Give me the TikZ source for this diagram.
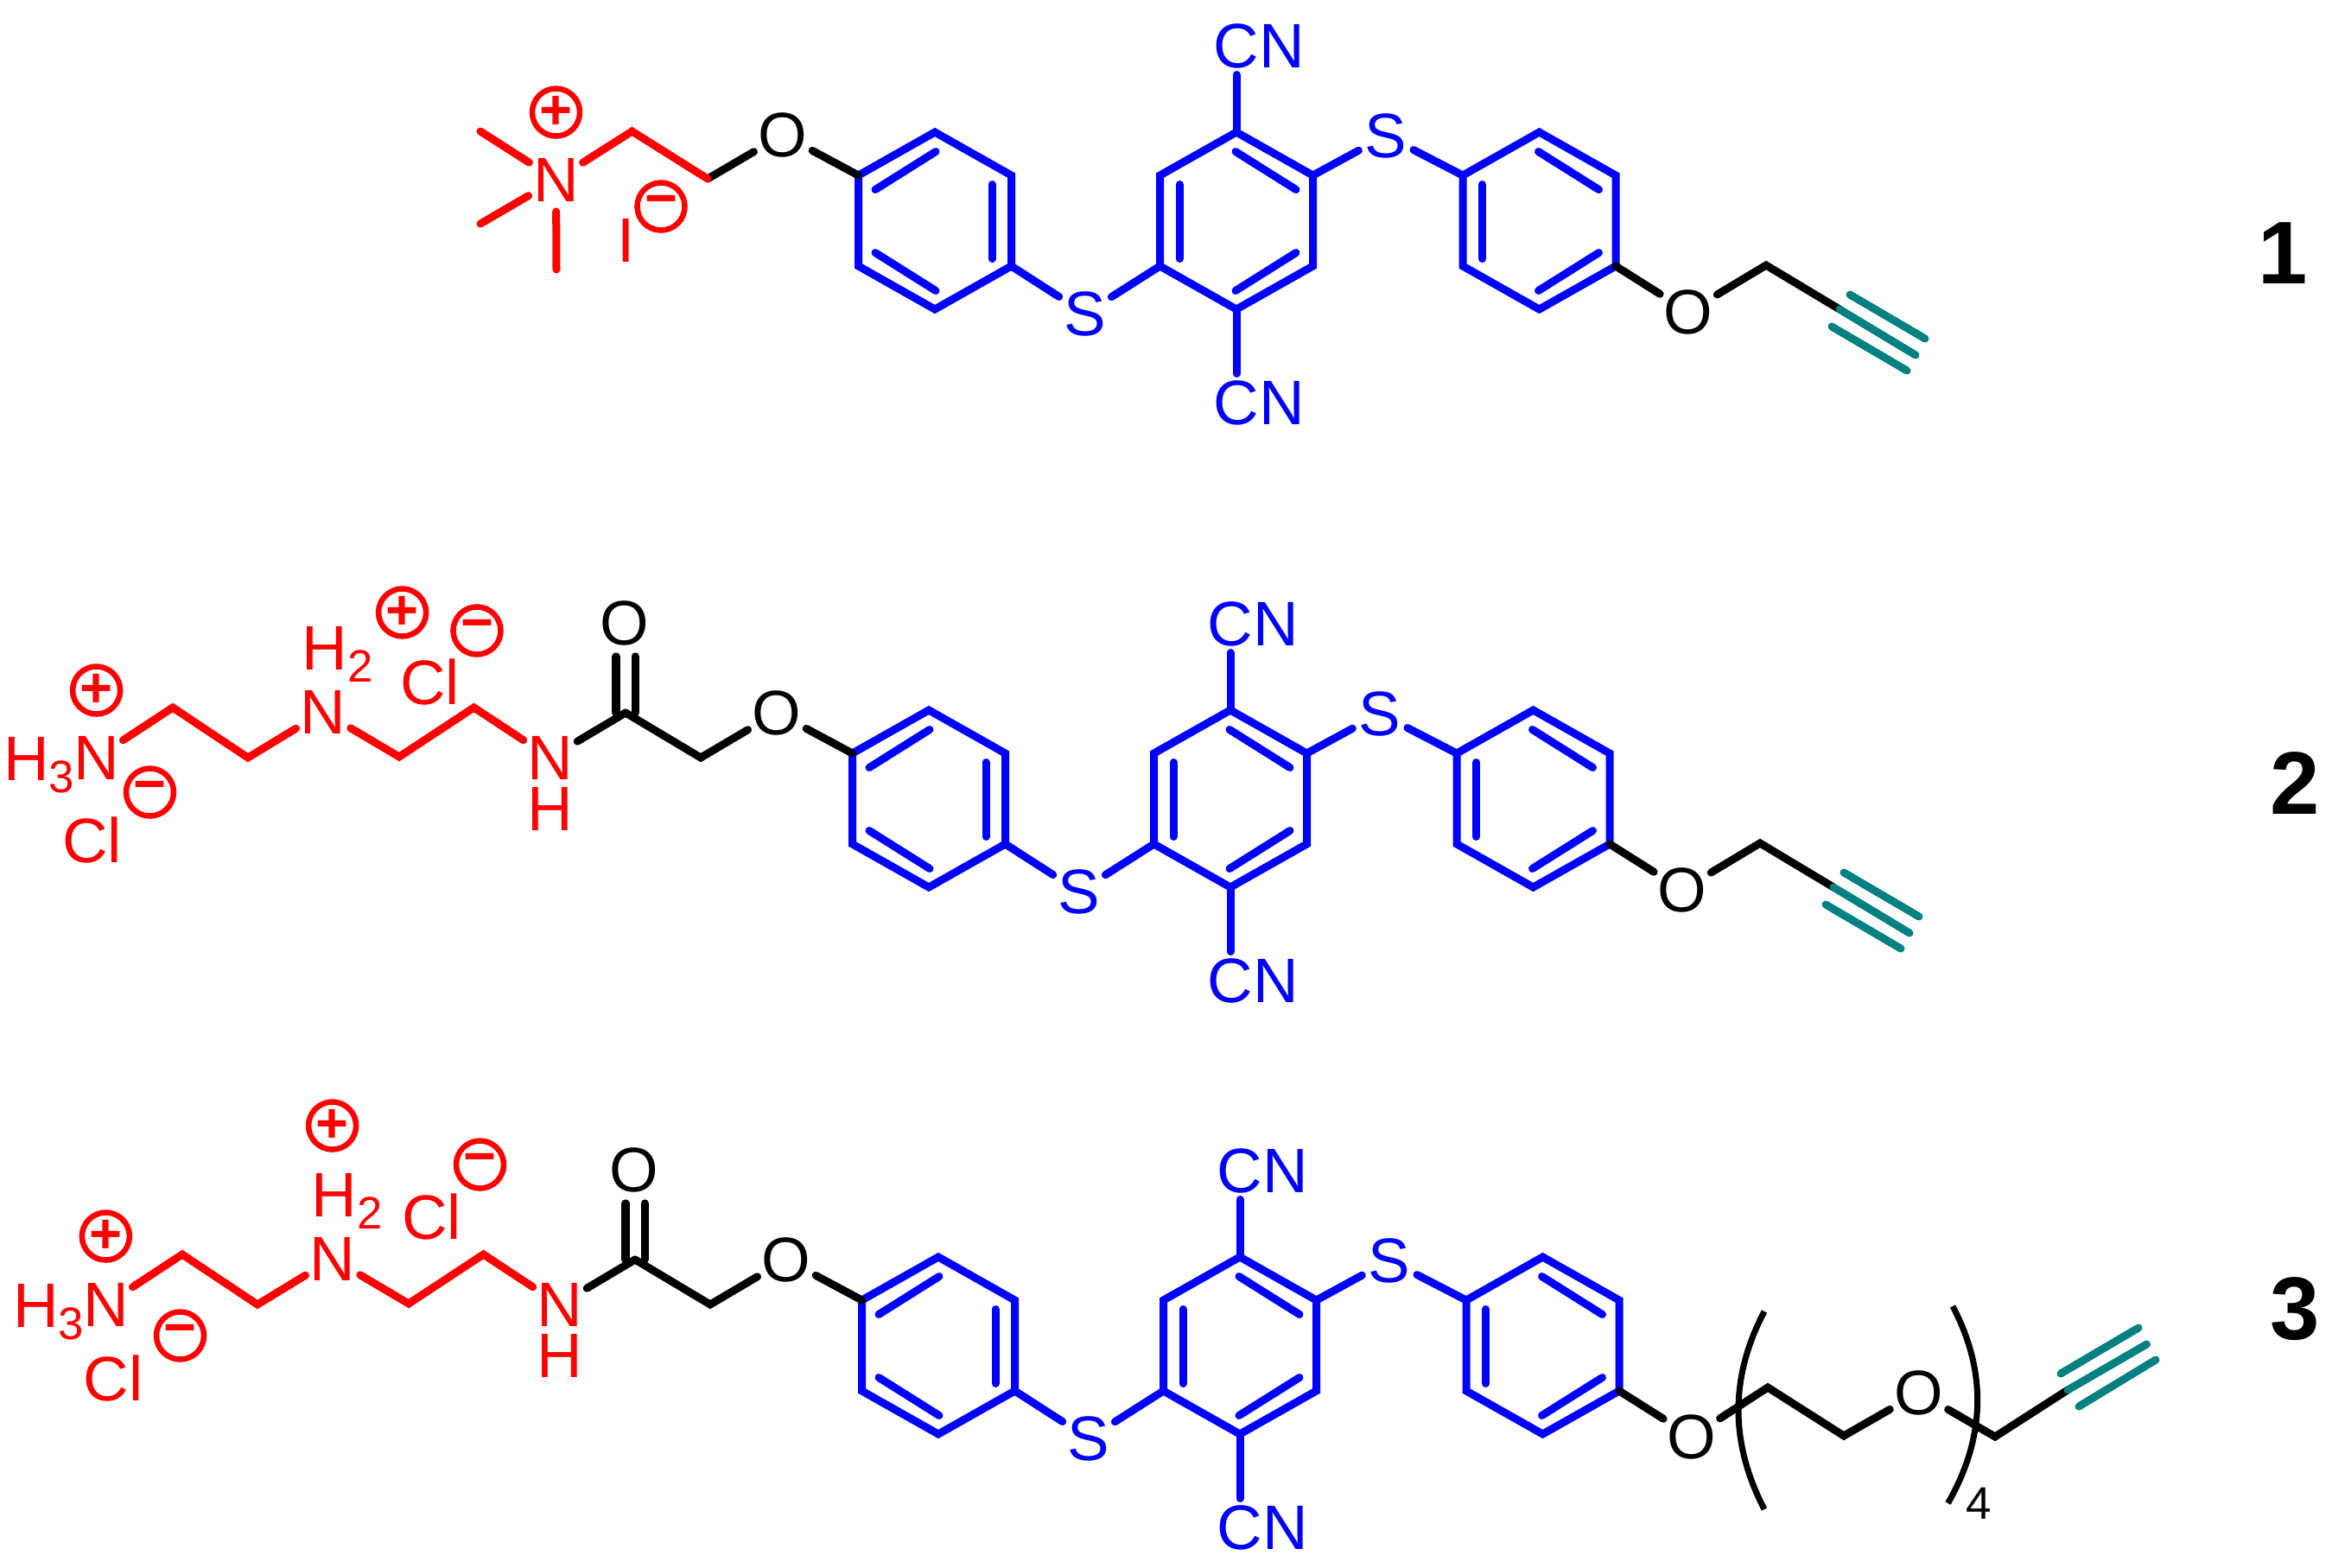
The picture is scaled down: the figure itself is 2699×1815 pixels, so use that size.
\documentclass[tikz,border=0pt]{standalone}
\usepackage{fontspec}
\setmainfont{Liberation Sans}
\usepackage{xcolor}
\usetikzlibrary{positioning}

\tikzset{
  bond/.style={line width=.09cm,line cap=round,line join=miter},
  atom/.style={circle,inner sep=0pt,minimum size=.62cm,font=\fontsize{20.7pt}{24pt}\selectfont},
  atomN/.style={atom,minimum size=.7cm},
  grp/.style={inner sep=.07cm,font=\fontsize{20.7pt}{24pt}\selectfont},
  txt/.style={inner sep=0pt,font=\fontsize{20.7pt}{24pt}\selectfont},
  chg/.style={circle,draw=red,text=red,line width=.065cm,minimum size=.55cm,inner sep=0pt,
    font=\fontsize{18.5pt}{20pt}\selectfont\bfseries},
  idx/.style={inner sep=0pt,font=\fontsize{29.3pt}{32pt}\selectfont\bfseries},
  brk/.style={line width=.07cm}
}
\newcommand{\lowidx}[1]{\raisebox{-4.2pt}{\fontsize{15pt}{16pt}\selectfont #1}}

% one benzene: name, centre, side of the inner bonds
\newcommand{\benzring}[3]{
\begin{scope}[shift={(#2)}]
\coordinate (#1t) at (0,-102.5);
\coordinate (#1ur) at (88.5,-52.5);
\coordinate (#1lr) at (88.5,52.5);
\coordinate (#1b) at (0,102.5);
\coordinate (#1ll) at (-88.5,52.5);
\coordinate (#1ul) at (-88.5,-52.5);
\draw[bond,blue] (#1t) -- (#1ur) -- (#1lr) -- (#1b) -- (#1ll) -- (#1ul) -- cycle;
\begin{scope}[xscale=#3]
\draw[bond,blue] (-69,-36) -- (1,-80);
\draw[bond,blue] (-69,37) -- (1,81);
\draw[bond,blue] (66,-42) -- (66,44);
\end{scope}
\end{scope}
}

% the three rings with S, CN and both O: name, shift
\newcommand{\arylcore}[3]{
\begin{scope}[shift={(#2,#3)}]
\benzring{#1a}{1082,255.5}{1}
\benzring{#1b}{1431,255.5}{-1}
\benzring{#1c}{1781.5,255.5}{-1}
\node[atom,blue] (#1sa) at (1256,363) {S};
\node[atom,blue] (#1sb) at (1604,157) {S};
\draw[bond,blue] (#1alr) -- (#1sa);
\draw[bond,blue] (#1sa) -- (#1bll);
\draw[bond,blue] (#1bur) -- (#1sb);
\draw[bond,blue] (#1sb) -- (#1cul);
\node[grp,blue] (#1cnt) at (1457,53) {CN};
\node[grp,blue] (#1cnb) at (1457,466) {CN};
\draw[bond,blue] (#1bt) -- (#1bt |- #1cnt.south);
\draw[bond,blue] (#1bb) -- (#1bb |- #1cnb.north);
\node[atom] (#1ol) at (906,156) {O};
\node[atom] (#1or) at (1954,361) {O};
\draw[bond] (#1aul) -- (#1ol);
\draw[bond] (#1clr) -- (#1or);
\end{scope}
}

% O-CH2 and the alkyne
\newcommand{\alkynetail}[3]{
\begin{scope}[shift={(#2,#3)}]
\coordinate (#1ch) at (2044,307);
\coordinate (#1ya) at (2129,358);
\coordinate (#1yb) at (2217,411);
\draw[bond] (#1or) -- (#1ch) -- (#1ya);
\draw[bond,teal] (#1ya) -- (#1yb);
\draw[bond,teal] (2141,341) -- (2228,392);
\draw[bond,teal] (2120,378) -- (2207,429);
\end{scope}
}

% amine chain and amide, written at its place in 2
\newcommand{\aminehead}[3]{
\begin{scope}[shift={(#2,#3)}]
\coordinate (#1c) at (724,825);
\coordinate (#1k) at (811,877);
\node[atom] (#1oc) at (723,721) {O};
\draw[bond] (#1ol) -- (#1k) -- (#1c);
\draw[bond] ([xshift=-.11cm]#1c) -- ([xshift=-.11cm]#1c |- #1oc.south);
\draw[bond] ([xshift=.11cm]#1c) -- ([xshift=.11cm]#1c |- #1oc.south);
\node[atomN,red] (#1nh) at (636.5,877) {N};
\node[atom,red] (#1hh) at (636.5,936) {H};
\draw[bond] (#1c) -- (#1nh);
\node[atomN,red] (#1n) at (374,824) {N};
\node[atomN,red] (#1nt) at (111.6,877) {N};
\node[txt,red,anchor=base east] (#1ht) at (87,903) {H\lowidx{3}};
\node[txt,red,anchor=base west] (#1hm) at (349,775) {H\lowidx{2}};
\coordinate (#1r1) at (200,819);
\coordinate (#1r2) at (287,877);
\coordinate (#1r3) at (462,876);
\coordinate (#1r4) at (548.5,819);
\draw[bond,red] (#1nt) -- (#1r1) -- (#1r2) -- (#1n);
\draw[bond,red] (#1n) -- (#1r3) -- (#1r4) -- (#1nh);
\end{scope}
}

\begin{document}
\begin{tikzpicture}[x=.01cm,y=-.01cm]
\useasboundingbox (0,0) rectangle (2699,1815);

% 1
\arylcore{ma}{0}{0}
\alkynetail{ma}{0}{0}
\coordinate (mak) at (819,207);
\coordinate (mar) at (731.5,152);
\node[atomN,red] (man) at (643.5,208) {N};
\coordinate (mea) at (556,152);
\coordinate (meb) at (556,259);
\coordinate (mec) at (644,312);
\draw[bond] (maol) -- (mak);
\draw[bond,red] (man) -- (mar) -- (mak);
\draw[bond,red] (man) -- (mea);
\draw[bond,red] (man) -- (meb);
\draw[bond,red] (man) -- (mec);
\node[chg] (mapl) at (643.5,130) {+};
\node[chg] (mami) at (765,239) {−};
\node[txt,red] (mai) at (724.5,278) {I};
\node[idx] (mal) at (2642,293) {1};

% 2
\arylcore{mb}{-7}{669}
\alkynetail{mb}{-7}{669}
\aminehead{mb}{0}{0}
\node[chg] (mbpa) at (111.6,799) {+};
\node[chg] (mbma) at (173.5,917) {−};
\node[txt,red] (mbca) at (106.5,972) {Cl};
\node[chg] (mbpb) at (465.6,709) {+};
\node[chg] (mbmb) at (552,730) {−};
\node[txt,red] (mbcb) at (497.5,789) {Cl};
\node[idx] (mbl) at (2656,907) {2};

% 3
\arylcore{mc}{4}{1302}
\aminehead{mc}{11}{633}
\node[chg] (mcpa) at (122.4,1431) {+};
\node[chg] (mcma) at (208.5,1546) {−};
\node[txt,red] (mcca) at (131,1595) {Cl};
\node[chg] (mcpb) at (384.6,1303) {+};
\node[chg] (mcmb) at (555.5,1348) {−};
\node[txt,red] (mccb) at (499.5,1408) {Cl};
\coordinate (mcr1) at (2046,1606);
\coordinate (mcr2) at (2134,1662);
\node[atom] (mcoe) at (2221,1612) {O};
\coordinate (mcr3) at (2309,1663);
\coordinate (mcya) at (2393,1609);
\coordinate (mcyb) at (2484.5,1556);
\draw[bond] (mcor) -- (mcr1) -- (mcr2) -- (mcoe);
\draw[bond] (mcoe) -- (mcr3) -- (mcya);
\draw[bond,teal] (mcya) -- (mcyb);
\draw[bond,teal] (2385,1590) -- (2475,1537);
\draw[bond,teal] (2406,1628) -- (2495,1574);
\draw[brk] (2042,1518) .. controls (2002,1594) and (2002,1670) .. (2042,1747);
\draw[brk] (2260,1512) .. controls (2300,1588) and (2298,1664) .. (2254.5,1740);
\node[inner sep=0pt,font=\fontsize{15pt}{16pt}\selectfont] (mcn) at (2290,1740) {4};
\node[idx] (mcl) at (2656,1515) {3};
\end{tikzpicture}
\end{document}
